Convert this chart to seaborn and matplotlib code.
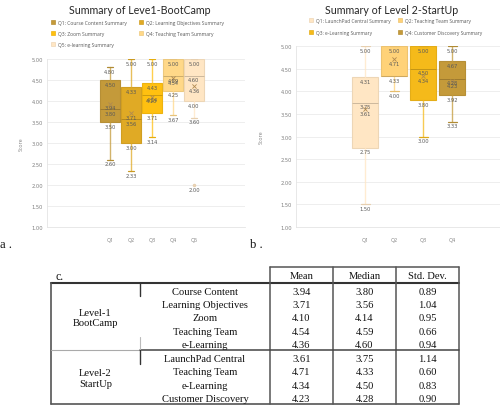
import numpy as np
import matplotlib.pyplot as plt
import matplotlib.patches as mpatches
import matplotlib.colors as mcolors
import seaborn as sns

# ---- chart a: Level-1 BootCamp ----
l1_title = "Summary of Leve1-BootCamp"
l1_names = ["Q1: Course Content Summary", "Q2: Learning Objectives Summary",
            "Q3: Zoom Summary", "Q4: Teaching Team Summary", "Q5: e-learning Summary"]
l1_ticks = ["Q1", "Q2", "Q3", "Q4", "Q5"]
l1_min = [2.60, 2.33, 3.14, 3.67, 3.60]
l1_q1 = [3.50, 3.00, 3.71, 4.25, 4.00]
l1_med = [3.80, 3.56, 4.14, 4.59, 4.60]
l1_q3 = [4.50, 4.33, 4.43, 5.00, 5.00]
l1_max = [4.80, 5.00, 5.00, 5.00, 5.00]
l1_mean = [3.94, 3.71, 4.10, 4.54, 4.36]
l1_out = [[], [], [], [], [2.00]]
l1_colors = ["#C49A3A", "#E0AA25", "#FFC010", "#FFD888", "#FFE6C4"]

# ---- chart b: Level-2 StartUp ----
l2_title = "Summary of Level 2-StartUp"
l2_names = ["Q1: LaunchPad Central Summary", "Q2: Teaching Team Summary",
            "Q3: e-Learning Summary", "Q4: Customer Discovery Summary"]
l2_ticks = ["Q1", "Q2", "Q3", "Q4"]
l2_min = [1.50, 4.00, 3.00, 3.33]
l2_q1 = [2.75, 4.33, 3.80, 3.92]
l2_med = [3.75, 4.33, 4.50, 4.28]
l2_q3 = [4.31, 5.00, 5.00, 4.67]
l2_max = [5.00, 5.00, 5.00, 5.00]
l2_mean = [3.61, 4.71, 4.34, 4.23]
l2_out = [[], [], [], []]
l2_colors = ["#FFE6C4", "#FFD278", "#F5BA1A", "#C49A3A"]

# ---- table c ----
groups = ["Level-1\nBootCamp", "Level-2\nStartUp"]
group_sizes = [5, 4]
items = ["Course Content", "Learning Objectives", "Zoom", "Teaching Team", "e-Learning",
         "LaunchPad Central", "Teaching Team", "e-Learning", "Customer Discovery"]
means = ["3.94", "3.71", "4.10", "4.54", "4.36", "3.61", "4.71", "4.34", "4.23"]
medians = ["3.80", "3.56", "4.14", "4.59", "4.60", "3.75", "4.33", "4.50", "4.28"]
stds = ["0.89", "1.04", "0.95", "0.66", "0.94", "1.14", "0.60", "0.83", "0.90"]
headers = ["Mean", "Median", "Std. Dev."]

sns.set_theme(style="white")
plt.rcParams['font.family'] = ['Open Sans', 'DejaVu Sans']

fig = plt.figure(figsize=(5, 4.06), dpi=100)
W, H = 500, 406
num_font = ['DejaVu Sans']


def px_axes(x0, y0, x1, y1):
    return fig.add_axes([x0 / W, 1 - y1 / H, (x1 - x0) / W, (y1 - y0) / H])


def darker(c, f=0.85):
    r, g, b = mcolors.to_rgb(c)
    return (r * f, g * f, b * f)


def row_major(seq, ncol=2):
    # legend fills column by column; reorder so entries read row by row
    return [seq[i] for c in range(ncol) for i in range(c, len(seq), ncol)]


def box_chart(ax, ticks, mn, q1, med, q3, mx, mean, outl, colors, xlim, width):
    pos = np.arange(len(ticks))
    stats = [dict(whislo=mn[i], q1=q1[i], med=med[i], q3=q3[i], whishi=mx[i],
                  fliers=outl[i], label=ticks[i]) for i in range(len(ticks))]
    bp = ax.bxp(stats, positions=pos, widths=width, capwidths=0.3, patch_artist=True,
                showfliers=True, manage_ticks=False)
    for i, c in enumerate(colors):
        bp['boxes'][i].set_facecolor(c)
        bp['boxes'][i].set_edgecolor(darker(c, 0.93))
        bp['boxes'][i].set_linewidth(0.8)
        bp['medians'][i].set_color(darker(c, 0.8))
        bp['medians'][i].set_linewidth(0.7)
        for k in (2 * i, 2 * i + 1):
            bp['whiskers'][k].set_color(c)
            bp['whiskers'][k].set_alpha(0.75)
            bp['whiskers'][k].set_linewidth(1.0)
            bp['caps'][k].set_color(darker(c, 0.9))
            bp['caps'][k].set_linewidth(0.9)
        bp['fliers'][i].set_marker('o')
        bp['fliers'][i].set_markersize(1.5)
        bp['fliers'][i].set_markerfacecolor(c)
        bp['fliers'][i].set_markeredgecolor(darker(c, 0.9))
    sns.scatterplot(x=pos, y=mean, marker='x', s=9, color="#B08A50", linewidth=0.6,
                    ax=ax, zorder=5, legend=False)
    for i in range(len(ticks)):
        vals = [mx[i], q3[i], med[i], mean[i], q1[i], mn[i]] + list(outl[i])
        seen = []
        for v in vals:
            if v in seen:
                continue
            seen.append(v)
            ax.annotate(f"{v:.2f}", (pos[i], v), xytext=(0, -1.2), textcoords='offset points',
                        ha='center', va='top', fontsize=3.7, color="#595959", zorder=6,
                        family=num_font)
    ax.set_xlim(*xlim)
    ax.set_ylim(1.0, 5.0)
    ax.set_yticks(np.arange(1.0, 5.01, 0.5))
    ax.set_yticklabels([f"{v:.2f}" for v in np.arange(1.0, 5.01, 0.5)], family=num_font)
    ax.set_xticks(pos)
    ax.set_xticklabels(ticks)
    ax.tick_params(axis='y', labelsize=3.7, colors="#7F7F7F", length=0, pad=3)
    ax.tick_params(axis='x', labelsize=3.8, colors="#7F7F7F", length=0, pad=7.5)
    ax.grid(axis='y', color="#EBEBEB", linewidth=0.6)
    ax.set_axisbelow(True)
    for s in ['top', 'right']:
        ax.spines[s].set_visible(False)
    for s in ['left', 'bottom']:
        ax.spines[s].set_color("#E4E4E4")
        ax.spines[s].set_linewidth(0.6)
    ax.set_ylabel("Score", fontsize=3.8, color="#7F7F7F")


ax1 = px_axes(47, 60, 245, 228)
box_chart(ax1, l1_ticks, l1_min, l1_q1, l1_med, l1_q3, l1_max, l1_mean, l1_out,
          l1_colors, (-3.0, 6.43), 0.93)
ax1.yaxis.set_label_coords(-0.115, 0.5)

ax2 = px_axes(296, 47, 500, 228)
box_chart(ax2, l2_ticks, l2_min, l2_q1, l2_med, l2_q3, l2_max, l2_mean, l2_out,
          l2_colors, (-2.4, 4.65), 0.9)
ax2.yaxis.set_label_coords(-0.16, 0.5)

title_font = ['Lato', 'DejaVu Sans']
fig.text(140 / W, 1 - 11 / H, l1_title, ha='center', va='center', fontsize=7.7,
         color="#262626", family=title_font)
fig.text(392 / W, 1 - 10 / H, l2_title, ha='center', va='center', fontsize=7.7,
         color="#262626", family=title_font)

leg_kw = dict(ncol=2, frameon=False, handlelength=0.8, handleheight=0.8,
              handletextpad=0.6, labelcolor="#595959", borderaxespad=0)
h1 = [mpatches.Patch(facecolor=c, edgecolor=darker(c, 0.93), linewidth=0.5) for c in l1_colors]
fig.legend(row_major(h1), row_major(l1_names), loc='upper left',
           bbox_to_anchor=(49 / W, 1 - 19 / H), fontsize=3.6, labelspacing=1.15,
           columnspacing=2.4, **leg_kw)
h2 = [mpatches.Patch(facecolor=c, edgecolor=darker(c, 0.93), linewidth=0.5) for c in l2_colors]
fig.legend(row_major(h2), row_major(l2_names), loc='upper left',
           bbox_to_anchor=(307 / W, 1 - 17 / H), fontsize=3.5, labelspacing=1.35,
           columnspacing=1.6, **leg_kw)

# ---- table drawn on full-figure overlay ----
axt = fig.add_axes([0, 0, 1, 1])
axt.set_xlim(0, W)
axt.set_ylim(H, 0)
axt.axis('off')
axt.patch.set_alpha(0)

serif = ['Liberation Serif', 'DejaVu Serif']
axt.text(0, 245, "a .", fontsize=9, family=serif, va='center', ha='left', color="#111111")
axt.text(250, 245, "b .", fontsize=9, family=serif, va='center', ha='left', color="#111111")
axt.text(55, 277, "c.", fontsize=8.5, family=serif, va='center', ha='left', color="#111111")

x0, xa, xb, xc, xd, xe = 51, 140, 270, 333, 396, 459
y_top, y_head, y_bot = 268, 284, 405
n_rows = len(items)
rh = (y_bot - y_head) / n_rows
lc = "#555555"
tfs = 7.6

axt.plot([xb, xe], [y_top, y_top], color=lc, lw=1.1)
axt.plot([x0, xe], [y_head, y_head], color="#333333", lw=1.5)
axt.plot([x0, xe], [y_bot, y_bot], color=lc, lw=1.2)
axt.plot([x0, x0], [y_head, y_bot], color=lc, lw=1.2)
for xv in [xb, xc, xd, xe]:
    axt.plot([xv, xv], [y_top, y_bot], color=lc, lw=1.1)
y_sep = y_head + group_sizes[0] * rh
axt.plot([x0, xa], [y_sep, y_sep], color="#AAAAAA", lw=0.8)
axt.plot([xa, xe], [y_sep, y_sep], color="#444444", lw=1.1)
axt.plot([xa, xa], [y_head, y_head + rh], color="#333333", lw=1.0)
axt.plot([xa, xa], [y_sep - rh, y_sep], color="#BBBBBB", lw=0.8)
axt.plot([xa, xa], [y_sep, y_sep + rh], color="#333333", lw=1.0)

for j, h in enumerate(headers):
    cx = [(xb + xc) / 2, (xc + xd) / 2, (xd + xe) / 2][j]
    axt.text(cx, (y_top + y_head) / 2 + 1, h, fontsize=tfs, family=serif, ha='center',
             va='center', color="#111111")

for i in range(n_rows):
    cy = y_head + (i + 0.5) * rh + 1.3
    axt.text((xa + xb) / 2, cy, items[i], fontsize=tfs, family=serif, ha='center', va='center', color="#111111")
    for cx, v in zip([(xb + xc) / 2, (xc + xd) / 2, (xd + xe) / 2], [means[i], medians[i], stds[i]]):
        axt.text(cx, cy, v, fontsize=tfs, family=serif, ha='center', va='center', color="#111111")

start = 0
for g, n in zip(groups, group_sizes):
    cy = y_head + (start + n / 2) * rh + 1
    axt.text((x0 + xa) / 2, cy, g, fontsize=tfs, family=serif, ha='center', va='center',
             color="#111111", linespacing=1.25)
    start += n

fig.savefig("out.png", dpi=100)
